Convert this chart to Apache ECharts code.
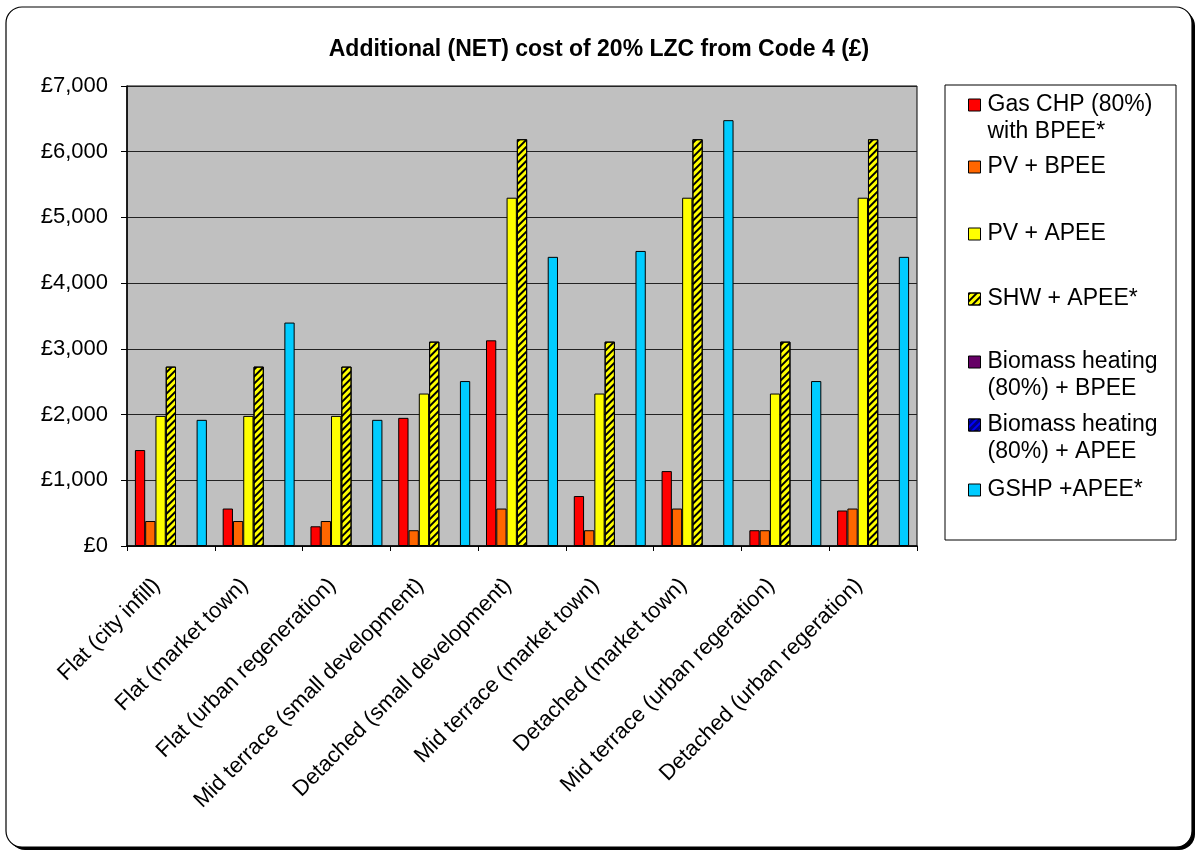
<!DOCTYPE html>
<html>
<head>
<meta charset="utf-8">
<script src="https://cdn.jsdelivr.net/npm/echarts@6/dist/echarts.min.js"></script>
<style>
html,body{margin:0;padding:0;background:#fff;}
#main{width:1198px;height:852px;}
</style>
</head>
<body>
<div id="main"></div>
<script>
var categories = [
  'Flat (city infill)',
  'Flat (market town)',
  'Flat (urban regeneration)',
  'Mid terrace (small development)',
  'Detached (small development)',
  'Mid terrace (market town)',
  'Detached (market town)',
  'Mid terrace (urban regeration)',
  'Detached (urban regeration)'
];
var seriesNames = [
  'Gas CHP (80%)\nwith BPEE*',
  'PV + BPEE',
  'PV + APEE',
  'SHW + APEE*',
  'Biomass heating\n(80%) + BPEE',
  'Biomass heating\n(80%) + APEE',
  'GSHP +APEE*'
];
var gasChpBpee   = [1460, 570, 300, 1950, 3130, 760, 1140, 240, 540];
var pvBpee       = [380, 380, 380, 240, 570, 240, 570, 240, 570];
var pvApee       = [1980, 1980, 1980, 2320, 5300, 2320, 5300, 2320, 5300];
var shwApee      = [2730, 2730, 2730, 3110, 6190, 3110, 6190, 3110, 6190];
var biomassBpee  = [0, 0, 0, 0, 0, 0, 0, 0, 0];
var biomassApee  = [0, 0, 0, 0, 0, 0, 0, 0, 0];
var gshpApee     = [1920, 3400, 1920, 2510, 4400, 4490, 6480, 2510, 4400];
var yTicks = [0, 1000, 2000, 3000, 4000, 5000, 6000, 7000];

var seriesData = [gasChpBpee, pvBpee, pvApee, shwApee, biomassBpee, biomassApee, gshpApee];
var colors = ['#FF0000', '#FF6600', '#FFFF00', '#FFFF00', '#660066', '#000080', '#00CCFF'];
var FONT = '"Liberation Sans", Arial, sans-serif';

var hatchYellow = {symbol: 'rect', color: '#000000', dashArrayX: [1, 0], dashArrayY: [2, 3], rotation: -Math.PI / 4, symbolSize: 1};
var hatchBlue = {symbol: 'rect', color: '#0000FF', dashArrayX: [1, 0], dashArrayY: [2, 3], rotation: -Math.PI / 4, symbolSize: 1};
var decals = [null, null, null, hatchYellow, null, hatchBlue, null];

var series = seriesNames.map(function (n, i) {
  var st = {color: colors[i], borderColor: '#000', borderWidth: 1};
  if (decals[i]) st.decal = decals[i];
  return {
    name: n,
    type: 'bar',
    data: seriesData[i],
    barGap: '0%',
    barCategoryGap: '18%',
    itemStyle: st
  };
});

var iconCenters = [105, 167, 234, 299, 362, 425, 490];
var LH = 27;
var legends = seriesNames.map(function (n, i) {
  var twoLine = n.indexOf('\n') >= 0;
  return {
    data: [n],
    orient: 'vertical',
    left: 968,
    top: twoLine ? iconCenters[i] - 1.5 * LH : iconCenters[i] - LH / 2,
    padding: 0,
    icon: 'rect',
    itemWidth: 12,
    itemHeight: 12,
    itemGap: 0,
    selectedMode: false,
    formatter: function (name) { return twoLine ? '\n' + name : name; },
    itemStyle: {borderColor: '#000', borderWidth: 1},
    textStyle: {
      fontFamily: FONT, fontSize: 23, color: '#000', lineHeight: LH,
      padding: [0, 0, 0, 2]
    }
  };
});

var chart = echarts.init(document.getElementById('main'), null, {renderer: 'canvas'});
chart.setOption({
  backgroundColor: '#ffffff',
  animation: false,
  title: {
    text: 'Additional (NET) cost of 20% LZC from Code 4 (£)',
    left: 'center',
    top: 33,
    textStyle: {fontFamily: FONT, fontSize: 23, fontWeight: 'bold', color: '#000'}
  },
  graphic: [
    {type: 'rect', z: -30, shape: {x: 9, y: 10, width: 1186, height: 840, r: 16},
     style: {fill: '#000', stroke: null}},
    {type: 'rect', z: -20, shape: {x: 6, y: 7, width: 1186, height: 840, r: 16},
     style: {fill: '#fff', stroke: '#000', lineWidth: 1.2}},
    {type: 'rect', z: -10, shape: {x: 945, y: 85, width: 231, height: 455},
     style: {fill: '#fff', stroke: '#000', lineWidth: 1}}
  ],
  legend: legends,
  grid: {
    left: 127, right: 281, top: 86, bottom: 306,
    show: true, backgroundColor: '#C0C0C0', borderColor: '#000', borderWidth: 1,
    containLabel: false
  },
  xAxis: {
    type: 'category',
    data: categories,
    axisLine: {lineStyle: {color: '#000', width: 1.5}},
    axisTick: {show: true, length: 5, lineStyle: {color: '#000'}},
    axisLabel: {rotate: 45, fontFamily: FONT, fontSize: 22, color: '#000', margin: 22, interval: 0,
      padding: [0, 20, 0, 0]}
  },
  yAxis: {
    type: 'value',
    min: 0, max: 7000, interval: 1000,
    axisLine: {show: true, lineStyle: {color: '#000', width: 1.5}},
    axisTick: {show: true, length: 6, lineStyle: {color: '#000'}},
    splitLine: {lineStyle: {color: '#222', width: 1}},
    axisLabel: {
      fontFamily: FONT, fontSize: 22, color: '#000', margin: 19,
      formatter: function (v) {
        return yTicks.indexOf(v) >= 0 ? '£' + v.toLocaleString('en-GB') : '';
      }
    }
  },
  series: series
});
</script>
</body>
</html>
